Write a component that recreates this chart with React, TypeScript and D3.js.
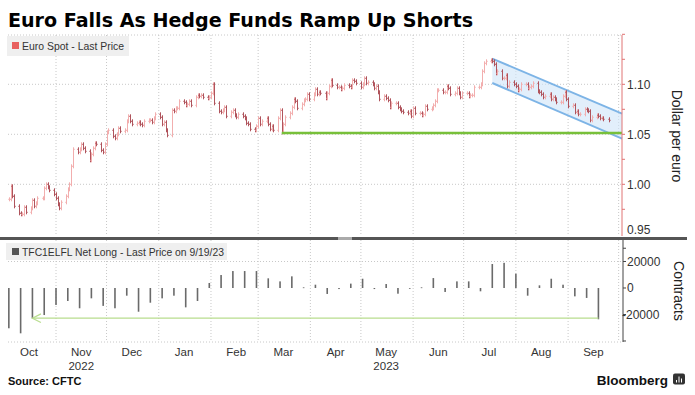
import React from 'react';
import * as d3 from 'd3';

// Daily EUR/USD closes, Oct 4 2022 .. Sep 25 2023 (weekdays)
const euroClose = [
  // Oct 2022
  0.985, 0.998, 0.988, 0.978,
  0.971, 0.970, 0.970, 0.977, 0.972,
  0.976, 0.984, 0.978, 0.981, 0.986,
  0.986, 0.996, 1.000, 0.997, 0.994,
  0.990, 0.986, 0.980, 0.976, 0.982,
  // Nov
  0.988, 0.995, 1.000, 1.018, 1.035,
  1.032, 1.035, 1.040, 1.036, 1.033,
  1.024, 1.030, 1.036, 1.041, 1.040,
  1.034, 1.032, 1.040, 1.052, 1.054,
  // Dec
  1.048, 1.046, 1.050, 1.056, 1.053,
  1.054, 1.063, 1.068, 1.063, 1.060,
  1.061, 1.062, 1.060, 1.059, 1.063,
  1.064, 1.064, 1.062, 1.066, 1.070,
  // Jan 2023
  1.067, 1.060, 1.062, 1.054, 1.049,
  1.074, 1.073, 1.076, 1.076, 1.083,
  1.082, 1.079, 1.080, 1.083, 1.079,
  1.087, 1.089, 1.088, 1.089, 1.087,
  1.086, 1.087, 1.091, 1.100, 1.081,
  // Feb
  1.073, 1.072, 1.074, 1.077, 1.068,
  1.072, 1.074, 1.069, 1.067, 1.070,
  1.068, 1.066, 1.061, 1.060, 1.055,
  1.054, 1.058, 1.066, 1.060, 1.063,
  // Mar
  1.066, 1.060, 1.055, 1.058, 1.054,
  1.066, 1.074, 1.052, 1.060, 1.067,
  1.071, 1.077, 1.085, 1.083, 1.076,
  1.080, 1.084, 1.085, 1.090, 1.085,
  // Apr
  1.090, 1.095, 1.090, 1.092, 1.091,
  1.086, 1.091, 1.098, 1.104, 1.099,
  1.097, 1.097, 1.095, 1.096, 1.099,
  1.098, 1.097, 1.104, 1.103, 1.101,
  // May
  1.097, 1.100, 1.106, 1.101, 1.102,
  1.100, 1.096, 1.098, 1.092, 1.085,
  1.088, 1.086, 1.084, 1.077, 1.081,
  1.081, 1.077, 1.075, 1.073, 1.072,
  1.071, 1.073, 1.068, 1.076, 1.071,
  // Jun
  1.071, 1.069, 1.070, 1.078, 1.075,
  1.076, 1.079, 1.083, 1.094, 1.094,
  1.092, 1.092, 1.098, 1.096, 1.090,
  1.091, 1.096, 1.091, 1.087, 1.091,
  // Jul
  1.091, 1.088, 1.089, 1.089, 1.097,
  1.097, 1.100, 1.113, 1.121, 1.123,
  1.124, 1.123, 1.120, 1.111, 1.113,
  1.106, 1.106, 1.109, 1.098, 1.102,
  // Aug
  1.100, 1.098, 1.094, 1.095, 1.100,
  1.100, 1.096, 1.097, 1.098, 1.101,
  1.093, 1.092, 1.090, 1.087, 1.088,
  1.090, 1.085, 1.087, 1.085, 1.082,
  1.082, 1.088, 1.092, 1.085, 1.078,
  // Sep
  1.079, 1.072, 1.073, 1.070, 1.070,
  1.075, 1.074, 1.073, 1.064, 1.067,
  1.069, 1.068, 1.066, 1.066, 1.065,
  1.064,
];

// CFTC weekly net long (contracts), Tuesdays Oct 4 2022 .. Sep 19 2023
const netLong = [
  -30400, -34200, -22900, -20400, -12800, -9800, -15300, -7800, -13500, -15300,
  -5800, -17900, -11100, -7800, -5800, -14600, -9800, 3800, 9800, 12800,
  12800, 12800, 7300, 5000, 8800, 500, 2500, -4500, -800, 3300,
  7000, -800, 3000, -4300, -500, 500, 7500, -3000, 5000, 5000,
  -2500, 18100, 19000, 10800, -5800, 2000, 7000, 2500, -6300, -7500,
  -23600,
];

const priceTicks = [0.95, 1.0, 1.05, 1.1];
const priceMinor = [0.975, 1.0, 1.025, 1.05, 1.075, 1.1, 1.125, 1.15];
const priceGrid = [1.0, 1.05, 1.1];
const contractTicks = [20000, 0, -20000];
const contractMinor = [30000, 20000, 0, -20000, -40000];
const yearLabels = [
  { label: '2022', month: new Date(2022, 10, 16) },
  { label: '2023', month: new Date(2023, 4, 16) },
];

// annotations drawn on the chart
const supportLevel = 1.0513;
const supportFrom = new Date(2023, 2, 15);
const channelDates = [new Date(2023, 6, 18), new Date(2023, 9, 3)];
const channelUpper = [1.1257, 1.0707];
const channelLower = [1.1013, 1.0457];
const arrowLevel = -22800;
const arrowDates = [new Date(2022, 9, 18), new Date(2023, 8, 19)];

const W = 695;
const H = 395;
const left = 8;
const right = 622;
const topY0 = 35;
const topY1 = 230;
const botY0 = 240;
const botY1 = 342;

const font = '"Liberation Sans", Arial, sans-serif';
const upColor = '#f2aeae';
const downColor = '#b0545c';

const App: React.FC = () => {
  const x = d3.scaleTime()
    .domain([new Date(2022, 9, 3, 12), new Date(2023, 9, 3)])
    .range([left, right]);
  const yTop = d3.scaleLinear().domain([0.9543, 1.1493]).range([topY1, topY0]);
  const yBot = d3.scaleLinear().domain([-40755, 36226]).range([botY1, botY0]);

  const priceDates = d3.timeDay
    .range(new Date(2022, 9, 4), new Date(2023, 8, 26))
    .filter(d => d.getDay() !== 0 && d.getDay() !== 6);
  const n = Math.min(priceDates.length, euroClose.length);
  const bars = d3.range(n).map(i => {
    const open = i === 0 ? euroClose[0] : euroClose[i - 1];
    const close = euroClose[i];
    return {
      date: priceDates[i],
      open,
      close,
      high: Math.max(open, close) + 0.002,
      low: Math.min(open, close) - 0.002,
    };
  });

  const weekDates = d3.timeTuesday.range(new Date(2022, 9, 4), new Date(2023, 8, 20));
  const gridMonths = d3.timeMonth.range(new Date(2022, 10, 1), new Date(2023, 9, 2));
  const labelMonths = d3.timeMonth
    .range(new Date(2022, 9, 1), new Date(2023, 9, 1))
    .map(m => d3.timeDay.offset(m, 15));
  const fmtMonth = d3.timeFormat('%b');

  const channelPoly = [
    [x(channelDates[0]), yTop(channelUpper[0])],
    [x(channelDates[1]), yTop(channelUpper[1])],
    [x(channelDates[1]), yTop(channelLower[1])],
    [x(channelDates[0]), yTop(channelLower[0])],
  ].map(p => p.join(',')).join(' ');

  const ax0 = x(arrowDates[0]);
  const ax1 = x(arrowDates[1]);
  const ay = yBot(arrowLevel);

  return (
    <svg width={W} height={H} style={{ position: 'absolute', left: 0, top: 0, background: '#fff' }}>
      {/* title */}
      <text x={8} y={27} fontFamily='"DejaVu Sans", Verdana, sans-serif' fontWeight="bold" fontSize={20}
        textLength={465} lengthAdjust="spacingAndGlyphs" fill="#000">
        Euro Falls As Hedge Funds Ramp Up Shorts
      </text>

      {/* grid */}
      <g stroke="#c8c8c8" strokeDasharray="1,2" strokeWidth={1}>
        <line x1={left} x2={right} y1={topY0} y2={topY0} />
        {priceGrid.map(v => (
          <line key={v} x1={left} x2={right} y1={yTop(v)} y2={yTop(v)} />
        ))}
        <line x1={left} x2={right} y1={yBot(20000)} y2={yBot(20000)} />
        <line x1={left} x2={right} y1={botY1} y2={botY1} />
        {gridMonths.map(d => (
          <g key={d.getTime()}>
            <line x1={x(d)} x2={x(d)} y1={topY0} y2={236} />
            <line x1={x(d)} x2={x(d)} y1={botY0} y2={botY1} />
          </g>
        ))}
      </g>

      {/* legend top */}
      <rect x={7} y={36} width={122} height={20} fill="#eeeeee" opacity={0.92} />
      <rect x={12} y={42} width={7} height={7} fill="#e8605f" />
      <text x={22} y={50} fontFamily={font} fontSize={11} fill="#333" textLength={102} lengthAdjust="spacingAndGlyphs">
        Euro Spot - Last Price
      </text>

      {/* channel */}
      <polygon points={channelPoly} fill="#cfe4f8" opacity={0.6} />
      <line x1={x(channelDates[0])} y1={yTop(channelUpper[0])} x2={x(channelDates[1])} y2={yTop(channelUpper[1])}
        stroke="#7db4e6" strokeWidth={2} />
      <line x1={x(channelDates[0])} y1={yTop(channelLower[0])} x2={x(channelDates[1])} y2={yTop(channelLower[1])}
        stroke="#7db4e6" strokeWidth={2} />

      {/* price bars */}
      <g strokeWidth={1}>
        {bars.map((b, i) => {
          const cx = Math.round(x(b.date)) + 0.5;
          const c = b.close >= b.open ? upColor : downColor;
          return (
            <g key={i} stroke={c}>
              <line x1={cx} x2={cx} y1={yTop(b.high)} y2={yTop(b.low)} />
              <line x1={cx - 1.2} x2={cx} y1={yTop(b.open)} y2={yTop(b.open)} />
              <line x1={cx} x2={cx + 1.2} y1={yTop(b.close)} y2={yTop(b.close)} />
            </g>
          );
        })}
      </g>

      {/* support line */}
      <line x1={x(supportFrom)} x2={right} y1={yTop(supportLevel)} y2={yTop(supportLevel)}
        stroke="#78c03a" strokeWidth={2.5} />

      {/* right axis top */}
      <line x1={right} x2={right} y1={topY0} y2={236} stroke="#e07474" strokeWidth={1} />
      {priceMinor.map(v => (
        <line key={v} x1={right} x2={right + 3} y1={yTop(v)} y2={yTop(v)} stroke="#e07474" />
      ))}
      {priceTicks.map(v => (
        <text key={v} x={627} y={Math.min(yTop(v), topY1)} dy="0.35em" fontFamily={font} fontSize={12} fill="#333">
          {d3.format('.2f')(v)}
        </text>
      ))}
      <text transform={`translate(677,136) rotate(90)`} textAnchor="middle" dominantBaseline="central"
        fontFamily={font} fontSize={14} fill="#222">
        Dollar per euro
      </text>

      {/* separator */}
      <rect x={0} y={237} width={687} height={3} fill="#555" />
      <rect x={338} y={237} width={14} height={3} fill="#aaa" />

      {/* legend bottom */}
      <rect x={6} y={243} width={221} height={17} fill="#eeeeee" opacity={0.92} />
      <rect x={12} y={248} width={7} height={7} fill="#555" />
      <text x={22} y={256} fontFamily={font} fontSize={11} fill="#333" textLength={202} lengthAdjust="spacingAndGlyphs">
        TFC1ELFL Net Long - Last Price on 9/19/23
      </text>

      {/* net long bars */}
      <g fill="#6a6a6a">
        {netLong.map((v, i) => {
          const bx = x(weekDates[i]);
          const y0 = yBot(Math.max(0, v));
          const y1 = yBot(Math.min(0, v));
          return <rect key={i} x={bx - 0.8} y={y0} width={1.6} height={Math.max(0.8, y1 - y0)} />;
        })}
      </g>

      {/* arrow */}
      <g stroke="#b8dd8e" strokeWidth={1.2} fill="none">
        <line x1={ax0} x2={ax1} y1={ay} y2={ay} />
        <polyline points={`${ax0 + 8.5},${ay - 4.3} ${ax0},${ay} ${ax0 + 8.5},${ay + 4.3}`} />
      </g>

      {/* right axis bottom */}
      <line x1={right + 1} x2={right + 1} y1={botY0} y2={botY1} stroke="#444" />
      {contractMinor.map(v => (
        <line key={v} x1={right + 1} x2={right + 4} y1={yBot(v)} y2={yBot(v)} stroke="#444" />
      ))}
      {contractTicks.map(v => (
        <text key={v} x={v < 0 ? 622 : 627} y={yBot(v)} dy="0.35em" fontFamily={font} fontSize={12} fill="#333">
          {v < 0 ? '-' + Math.abs(v) : String(v)}
        </text>
      ))}
      <text transform={`translate(679,291) rotate(90)`} textAnchor="middle" dominantBaseline="central"
        fontFamily={font} fontSize={14} fill="#222">
        Contracts
      </text>

      {/* x axis labels */}
      {labelMonths.map(d => (
        <text key={d.getTime()} x={x(d)} y={356} textAnchor="middle" fontFamily={font} fontSize={11.5} fill="#333">
          {fmtMonth(d)}
        </text>
      ))}
      {yearLabels.map(l => (
        <text key={l.label} x={x(l.month)} y={370} textAnchor="middle" fontFamily={font} fontSize={11.5} fill="#333">
          {l.label}
        </text>
      ))}

      {/* footer */}
      <text x={8} y={384.5} fontFamily={font} fontWeight="bold" fontSize={11} fill="#111">
        Source: CFTC
      </text>
      <text x={668} y={384.5} textAnchor="end" fontFamily={font} fontWeight="bold" fontSize={13.5} fill="#111">
        Bloomberg
      </text>
      <rect x={673} y={373.5} width={12} height={11} rx={2} fill="#333" />
      <g stroke="#fff" strokeWidth={1}>
        <line x1={676.5} x2={676.5} y1={380} y2={382.5} />
        <line x1={679} x2={679} y1={376.5} y2={382.5} />
        <line x1={681.5} x2={681.5} y1={378.5} y2={382.5} />
      </g>
    </svg>
  );
};

export default App;
